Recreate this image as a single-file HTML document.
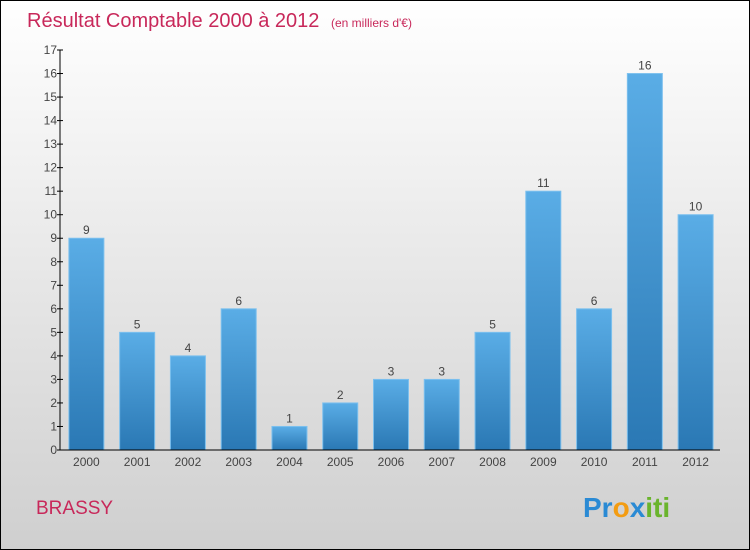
<!DOCTYPE html>
<html><head><meta charset="utf-8"><style>
body{margin:0}
svg{display:block;font-family:"Liberation Sans",sans-serif}
</style></head><body>
<svg width="750" height="550" xmlns="http://www.w3.org/2000/svg">
<defs>
<linearGradient id="bg" x1="0" y1="0" x2="0" y2="1"><stop offset="0" stop-color="#ffffff"/><stop offset="1" stop-color="#cfcfcf"/></linearGradient>
<linearGradient id="bar" x1="0" y1="0" x2="0" y2="1"><stop offset="0" stop-color="#5aade6"/><stop offset="1" stop-color="#2a78b4"/></linearGradient>
</defs>
<rect x="0.5" y="0.5" width="749" height="549" fill="url(#bg)" stroke="#000"/>
<text x="27" y="27" font-size="20" fill="#c8285a">Résultat Comptable 2000 à 2012 <tspan font-size="12" dx="6">(en milliers d'€)</tspan></text>
<g id="plot"></g>
<text x="36" y="514" font-size="19" fill="#c8285a">BRASSY</text>
<text x="583" y="517" font-size="28" font-weight="bold" fill="#f39c12"><tspan fill="#2a8ad4">Pr</tspan><tspan fill="#f39c12">o</tspan><tspan fill="#2a8ad4">x</tspan><tspan fill="#6ab42d">iti</tspan></text>
</svg>
<script>
const categories=["2000","2001","2002","2003","2004","2005","2006","2007","2008","2009","2010","2011","2012"];
const values=[9,5,4,6,1,2,3,3,5,11,6,16,10];
const yTicks=[0,1,2,3,4,5,6,7,8,9,10,11,12,13,14,15,16,17];
const NS="http://www.w3.org/2000/svg";
const g=document.getElementById('plot');
const x0=60,x1=720,y0=450,y1=50,yMax=17;
const step=(x1-x0)/categories.length;
const y=v=>y0-(v/yMax)*(y0-y1);
const xc=i=>x0+1+step*(i+0.5);
function mk(t,a){const e=document.createElementNS(NS,t);for(const k in a)e.setAttribute(k,a[k]);g.appendChild(e);return e;}
values.forEach((v,i)=>{
 const r=mk('rect',{x:xc(i)-17.5,y:y(v),width:35,height:y0-y(v),fill:'url(#bar)',stroke:'#7cc0ee','stroke-width':1});
 
 
 const t=mk('text',{x:xc(i),y:y(v)-4,'font-size':12,fill:'#444','text-anchor':'middle'});
 t.textContent=v;
 
 
 const c=mk('text',{x:xc(i),y:y0+16,'font-size':12,fill:'#444','text-anchor':'middle'});
 c.textContent=categories[i];
 
 
});
yTicks.forEach(v=>{
 const l=mk('line',{x1:x0-3,x2:x0+3,y1:y(v),y2:y(v),stroke:'#000'});
 
 
 const t=mk('text',{x:x0-3,y:y(v)+4,'font-size':12,fill:'#444','text-anchor':'end'});
 t.textContent=v;
 
 
});
const ya=mk('line',{x1:x0,x2:x0,y1:y1,y2:y0,stroke:'#000'});


const xa=mk('line',{x1:x0-3,x2:x1,y1:y0,y2:y0,stroke:'#000'});


</script>
</body></html>
